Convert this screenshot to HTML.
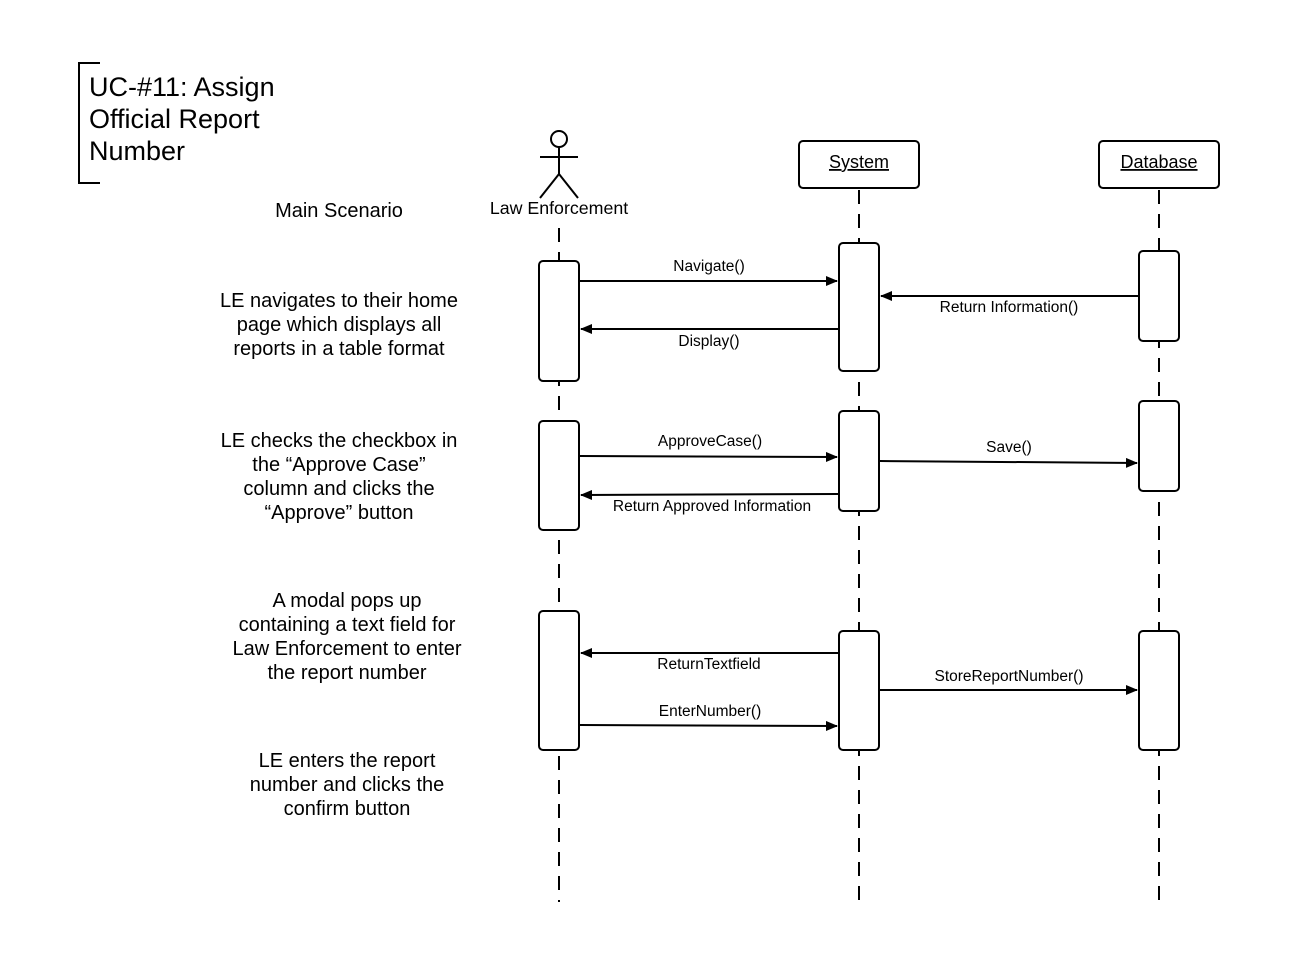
<!DOCTYPE html>
<html><head><meta charset="utf-8"><style>
html,body{margin:0;padding:0;background:#fff}
svg{display:block}
text{font-family:"Liberation Sans",Arial,sans-serif;fill:#000}
</style></head><body>
<svg width="1298" height="956" viewBox="0 0 1298 956" xmlns="http://www.w3.org/2000/svg">
<defs><marker id="a" markerWidth="12" markerHeight="10" refX="11" refY="5" orient="auto" markerUnits="userSpaceOnUse"><path d="M0,0 L12,5 L0,10 Z" fill="#000"/></marker></defs>
<path d="M100,63 L79,63 L79,183 L100,183" fill="none" stroke="#000" stroke-width="2"/>
<text x="89" y="96" font-size="27">UC-#11: Assign</text>
<text x="89" y="128" font-size="27">Official Report</text>
<text x="89" y="160" font-size="27">Number</text>
<text x="339" y="217" font-size="20" text-anchor="middle">Main Scenario</text>
<g stroke="#000" stroke-width="2" stroke-dasharray="14,10" fill="none">
<line x1="559" y1="228" x2="559" y2="902"/>
<line x1="859" y1="190" x2="859" y2="902"/>
<line x1="1159" y1="190" x2="1159" y2="902"/>
</g>
<g stroke="#000" stroke-width="2" fill="none">
<circle cx="559" cy="139" r="8" fill="#fff"/>
<line x1="559" y1="147" x2="559" y2="174"/>
<line x1="540" y1="157" x2="578" y2="157"/>
<line x1="559" y1="174" x2="540" y2="198"/>
<line x1="559" y1="174" x2="578" y2="198"/>
</g>
<text x="559" y="214" font-size="17.8" text-anchor="middle">Law Enforcement</text>
<g stroke="#000" stroke-width="2" fill="#fff">
<rect x="799" y="141" width="120" height="47" rx="4"/>
<rect x="1099" y="141" width="120" height="47" rx="4"/>
<rect x="539" y="261" width="40" height="120" rx="4"/>
<rect x="539" y="421" width="40" height="109" rx="4"/>
<rect x="539" y="611" width="40" height="139" rx="4"/>
<rect x="839" y="243" width="40" height="128" rx="4"/>
<rect x="839" y="411" width="40" height="100" rx="4"/>
<rect x="839" y="631" width="40" height="119" rx="4"/>
<rect x="1139" y="251" width="40" height="90" rx="4"/>
<rect x="1139" y="401" width="40" height="90" rx="4"/>
<rect x="1139" y="631" width="40" height="119" rx="4"/>
</g>
<text x="859" y="168" font-size="18" text-anchor="middle" text-decoration="underline">System</text>
<text x="1159" y="168" font-size="18" text-anchor="middle" text-decoration="underline">Database</text>
<g stroke="#000" stroke-width="2" marker-end="url(#a)">
<line x1="580" y1="281" x2="837" y2="281"/>
<line x1="838" y1="329" x2="581" y2="329"/>
<line x1="1138" y1="296" x2="881" y2="296"/>
<line x1="580" y1="456" x2="837" y2="457"/>
<line x1="838" y1="494" x2="581" y2="495"/>
<line x1="880" y1="461" x2="1137" y2="463"/>
<line x1="838" y1="653" x2="581" y2="653"/>
<line x1="880" y1="690" x2="1137" y2="690"/>
<line x1="580" y1="725" x2="837" y2="726"/>
</g>
<g font-size="15.5" text-anchor="middle">
<text x="709" y="271">Navigate()</text>
<text x="709" y="346">Display()</text>
<text x="1009" y="312">Return Information()</text>
<text x="710" y="446">ApproveCase()</text>
<text x="712" y="511">Return Approved Information</text>
<text x="1009" y="452">Save()</text>
<text x="709" y="669">ReturnTextfield</text>
<text x="1009" y="681">StoreReportNumber()</text>
<text x="710" y="716">EnterNumber()</text>
</g>
<g font-size="20" text-anchor="middle">
<text x="339" y="307">LE navigates to their home</text>
<text x="339" y="331">page which displays all</text>
<text x="339" y="355">reports in a table format</text>
<text x="339" y="447">LE checks the checkbox in</text>
<text x="339" y="471">the “Approve Case”</text>
<text x="339" y="495">column and clicks the</text>
<text x="339" y="519">“Approve” button</text>
<text x="347" y="607">A modal pops up</text>
<text x="347" y="631">containing a text field for</text>
<text x="347" y="655">Law Enforcement to enter</text>
<text x="347" y="679">the report number</text>
<text x="347" y="767">LE enters the report</text>
<text x="347" y="791">number and clicks the</text>
<text x="347" y="815">confirm button</text>
</g>
</svg>
</body></html>
